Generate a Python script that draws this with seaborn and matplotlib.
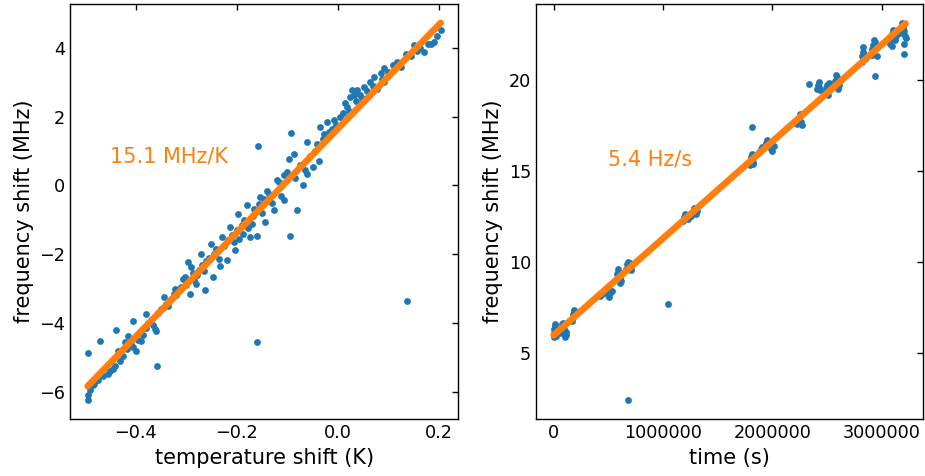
import numpy as np
import pandas as pd
import matplotlib
matplotlib.use("Agg")
import matplotlib.pyplot as plt
import seaborn as sns

# ---------------- data ----------------
# left panel: temperature shift (K) vs frequency shift (MHz)
temp_shift = [
    -0.495, -0.495, -0.494, -0.49, -0.485, -0.482, -0.47, -0.475, -0.465, -0.455,
    -0.45, -0.445, -0.44, -0.439, -0.435, -0.43, -0.425, -0.422, -0.418, -0.415,
    -0.41, -0.406, -0.405, -0.399, -0.395, -0.392, -0.389, -0.385, -0.38, -0.379,
    -0.375, -0.37, -0.365, -0.362, -0.36, -0.357, -0.355, -0.35, -0.346, -0.343,
    -0.339, -0.335, -0.33, -0.325, -0.323, -0.32, -0.315, -0.31, -0.306, -0.303,
    -0.3, -0.296, -0.293, -0.29, -0.287, -0.285, -0.28, -0.278, -0.275, -0.27,
    -0.268, -0.265, -0.262, -0.26, -0.255, -0.25, -0.247, -0.245, -0.24, -0.235,
    -0.233, -0.23, -0.225, -0.22, -0.218, -0.213, -0.21, -0.205, -0.203, -0.2,
    -0.197, -0.195, -0.19, -0.187, -0.185, -0.18, -0.178, -0.174, -0.17, -0.168,
    -0.165, -0.16, -0.16, -0.158, -0.155, -0.154, -0.15, -0.145, -0.144, -0.14,
    -0.135, -0.13, -0.127, -0.12, -0.117, -0.113, -0.107, -0.107, -0.1, -0.097,
    -0.094, -0.092, -0.087, -0.085, -0.081, -0.075, -0.069, -0.065, -0.061, -0.061,
    -0.055, -0.048, -0.045, -0.04, -0.036, -0.034, -0.03, -0.028, -0.021, -0.018,
    -0.012, -0.008, -0.003, 0.005, 0.01, 0.015, 0.019, 0.022, 0.025, 0.029,
    0.032, 0.036, 0.039, 0.045, 0.048, 0.052, 0.058, 0.065, 0.07, 0.072,
    0.078, 0.085, 0.088, 0.091, 0.091, 0.1, 0.11, 0.118, 0.125, 0.135,
    0.137, 0.145, 0.151, 0.158, 0.164, 0.171, 0.178, 0.184, 0.191, 0.196,
    0.204,
]
freq_shift_T = [
    -6.25, -6.08, -4.86, -5.95, -5.8, -5.77, -4.53, -5.65, -5.55, -5.48,
    -5.4, -5.34, -5.25, -4.19, -4.8, -5.1, -4.95, -4.56, -4.75, -4.37,
    -4.62, -3.95, -4.7, -4.8, -4.5, -4.25, -4.51, -4.35, -4.15, -3.74,
    -4.0, -3.9, -4.05, -4.17, -4.22, -5.25, -3.7, -3.6, -3.55, -3.25,
    -3.45, -3.5, -3.3, -3.15, -3.01, -3.2, -3.05, -2.95, -2.72, -2.67,
    -2.9, -2.23, -3.15, -2.38, -2.55, -2.75, -2.86, -2.6, -2.45, -1.99,
    -2.3, -2.5, -3.05, -2.2, -2.1, -1.7, -2.67, -2.0, -1.85, -2.15,
    -2.33, -1.5, -1.75, -2.16, -1.6, -1.21, -1.45, -1.65, -1.89, -1.3,
    -0.82, -1.55, -1.15, -1.4, -1.0, -0.58, -1.25, -1.5, -1.12, -0.9,
    -0.7, -1.46, -4.55, 1.14, -0.55, -0.34, -0.8, -0.4, -1.07, -0.15,
    -0.25, -0.5, -0.73, 0.15, 0.1, -0.3, 0.29, -0.44, 0.39, 0.78,
    -1.48, 1.52, 0.92, 0.2, -0.73, 0.6, 0.0, 0.45, 1.26, 0.34,
    0.85, 0.52, 1.0, 1.2, 0.7, 1.7, 1.35, 1.5, 1.84, 1.55,
    1.65, 1.89, 1.75, 1.99, 2.1, 2.38, 2.28, 2.15, 2.57, 2.77,
    2.62, 2.45, 2.77, 2.62, 2.55, 2.86, 2.75, 3.01, 2.9, 3.15,
    2.8, 3.25, 3.1, 3.4, 3.01, 3.3, 3.5, 3.59, 3.45, 3.83,
    -3.35, 3.75, 4.08, 3.9, 3.98, 3.88, 4.1, 4.12, 4.17, 4.35,
    4.51,
]
temp_fit_slope = 15.1       # MHz/K
temp_fit_intercept = 1.64   # MHz
temp_label = "15.1 MHz/K"

# right panel: time (s) vs frequency shift (MHz)
time_s = [
    0, 5000, 10000, 0, 8000, 12000, 3000, 15000, 6000, 18000,
    65000, 75000, 80000, 90000, 95000, 100000, 105000, 110000, 115000, 85000,
    165000, 175000, 180000, 185000, 190000, 195000, 170000,
    425000, 440000, 455000, 470000, 480000, 500000, 510000, 520000, 530000,
    580000, 585000, 590000, 595000, 600000, 605000, 610000, 615000,
    665000, 675000, 680000, 690000, 700000, 705000, 712000,
    676000, 1045000,
    1180000, 1190000, 1200000, 1215000, 1230000, 1260000, 1275000, 1285000, 1300000, 1315000,
    1800000, 1805000, 1810000, 1815000, 1820000, 1825000, 1818000,
    1880000, 1895000, 1910000, 1940000, 1955000, 1970000, 1985000, 2000000, 2015000,
    2230000, 2240000, 2250000, 2255000, 2262000, 2268000,
    2340000,
    2410000, 2420000, 2425000, 2432000, 2440000,
    2485000, 2495000, 2500000, 2508000, 2515000,
    2560000, 2570000, 2580000, 2590000, 2600000, 2608000, 2595000,
    2820000, 2825000, 2830000, 2835000, 2840000, 2850000, 2858000,
    2940000,
    2910000, 2915000, 2925000, 2930000, 2940000, 2950000, 2955000,
    3076000, 3085000, 3095000, 3105000, 3115000, 3125000, 3135000, 3100000,
    3170000, 3180000, 3190000, 3200000, 3210000, 3215000, 3220000, 3210000, 3210000,
]
freq_shift_t = [
    5.85, 6.0, 6.15, 6.3, 6.45, 6.55, 5.95, 6.2, 6.1, 5.9,
    6.1, 6.35, 6.55, 6.6, 6.3, 6.0, 5.85, 6.15, 5.95, 6.45,
    6.75, 6.95, 7.1, 7.25, 7.35, 7.2, 6.85,
    8.1, 8.2, 8.3, 8.45, 8.35, 8.15, 8.05, 8.25, 8.4,
    9.3, 9.6, 9.45, 9.2, 9.0, 8.85, 9.1, 8.95,
    9.6, 9.9, 10.0, 9.85, 9.95, 9.7, 9.55,
    2.36, 7.65,
    12.25, 12.45, 12.6, 12.5, 12.35, 12.5, 12.75, 12.95, 12.6, 12.8,
    15.35, 15.55, 15.75, 15.95, 15.5, 15.4, 17.43,
    16.05, 16.2, 16.3, 16.55, 16.7, 16.45, 16.2, 16.1, 16.35,
    17.6, 17.85, 18.05, 18.15, 17.7, 17.55,
    19.78,
    19.5, 19.75, 19.9, 19.6, 19.45,
    19.3, 19.55, 19.75, 19.2, 19.85,
    19.6, 19.95, 20.3, 20.15, 19.5, 19.75, 20.05,
    21.0, 21.3, 21.55, 21.8, 21.45, 21.15, 21.35,
    20.25,
    21.4, 21.7, 21.95, 22.2, 22.1, 21.75, 21.35,
    22.0, 22.3, 22.55, 22.75, 22.6, 22.2, 22.45, 21.85,
    22.6, 22.9, 23.15, 22.95, 22.7, 22.45, 22.3, 21.98, 21.43,
]
time_fit_slope = 5.33e-6    # MHz/s
time_fit_intercept = 5.95   # MHz
time_label = "5.4 Hz/s"

# ---------------- style ----------------
sns.set_style("white")
plt.rcParams["font.family"] = ["DejaVu Sans"]
plt.rcParams["text.color"] = "black"
plt.rcParams["axes.labelcolor"] = "black"
plt.rcParams["xtick.color"] = "black"
plt.rcParams["ytick.color"] = "black"
BLUE = "#1f77b4"
ORANGE = "#ff7f0e"
TICK_FS = 12.7
LABEL_FS = 15

fig = plt.figure(figsize=(9.25, 4.76), dpi=100)
ax1 = fig.add_axes([0.0757, 0.119, 0.4198, 0.8726])
ax2 = fig.add_axes([0.5795, 0.119, 0.4185, 0.8726])

# left panel
df_T = pd.DataFrame({"x": temp_shift, "y": freq_shift_T})
sns.scatterplot(data=df_T, x="x", y="y", ax=ax1, color=BLUE, s=24,
                linewidth=0, zorder=2)
xf = np.array([min(temp_shift), max(temp_shift)])
df_Tfit = pd.DataFrame({"x": xf, "y": temp_fit_slope * xf + temp_fit_intercept})
sns.lineplot(data=df_Tfit, x="x", y="y", ax=ax1, color=ORANGE, linewidth=4.8,
             solid_capstyle="round", zorder=3)
ax1.set_xlabel("temperature shift (K)", fontsize=LABEL_FS, color="black")
ax1.set_ylabel("frequency shift (MHz)", fontsize=LABEL_FS, color="black")
ax1.text(-0.45, 0.65, temp_label, color=ORANGE, fontsize=LABEL_FS)

# right panel
df_t = pd.DataFrame({"x": time_s, "y": freq_shift_t})
sns.scatterplot(data=df_t, x="x", y="y", ax=ax2, color=BLUE, s=24,
                linewidth=0, zorder=2)
tf = np.array([min(time_s), max(time_s)], dtype=float)
df_tfit = pd.DataFrame({"x": tf, "y": time_fit_slope * tf + time_fit_intercept})
sns.lineplot(data=df_tfit, x="x", y="y", ax=ax2, color=ORANGE, linewidth=4.8,
             solid_capstyle="round", zorder=3)
ax2.set_xlabel("time (s)", fontsize=LABEL_FS, color="black")
ax2.set_ylabel("frequency shift (MHz)", fontsize=LABEL_FS, color="black")
ax2.ticklabel_format(axis="x", style="plain", useOffset=False)
ax2.text(5e5, 15.3, time_label, color=ORANGE, fontsize=LABEL_FS)

for ax in (ax1, ax2):
    ax.tick_params(direction="in", top=True, right=True, length=4.5,
                   labelsize=TICK_FS, width=1, colors="black")
    for sp in ax.spines.values():
        sp.set_visible(True)
        sp.set_color("black")
        sp.set_linewidth(1.0)

fig.savefig("out.png", dpi=100)
